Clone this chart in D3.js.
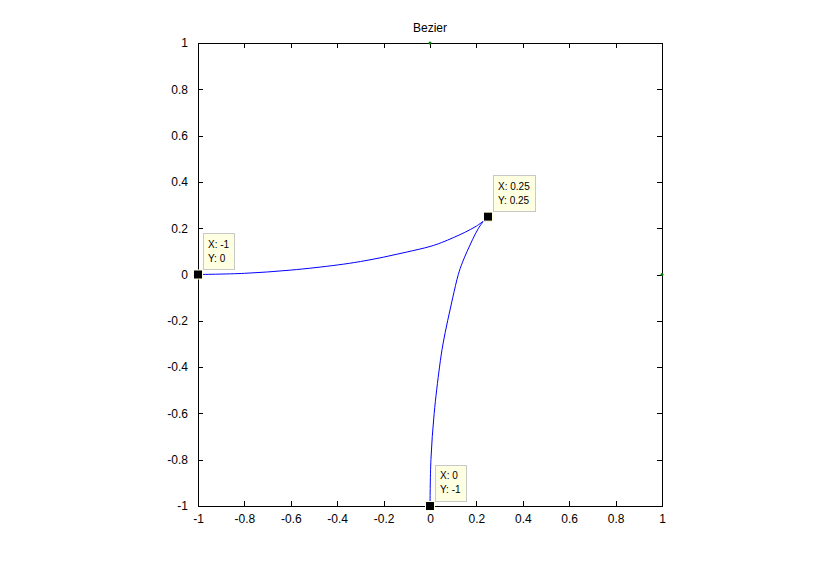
<!DOCTYPE html>
<html>
<head>
<meta charset="utf-8">
<script src="https://cdn.jsdelivr.net/npm/d3@7"></script>
<style>
  body { margin: 0; background: #fff; }
  svg { display: block; font-family: "Liberation Sans", Arial, sans-serif; }
</style>
</head>
<body>
<svg id="chart"></svg>
<script>
// tick positions and their labels (same for both axes)
const tickValues = [-1, -0.8, -0.6, -0.4, -0.2, 0, 0.2, 0.4, 0.6, 0.8, 1]
const tickLabels = ['-1', '-0.8', '-0.6', '-0.4', '-0.2', '0', '0.2', '0.4', '0.6', '0.8', '1']

// upper branch
const upperX = [-1, -0.8, -0.6, -0.4, -0.3, -0.2, -0.1, 0, 0.05, 0.1, 0.15, 0.2, 0.232]
const upperY = [0, 0.005, 0.019, 0.041, 0.056, 0.075, 0.097, 0.121, 0.138, 0.159, 0.182, 0.209, 0.232]

// lower branch
const lowerX = [0, 0.004, 0.018, 0.041, 0.056, 0.076, 0.098, 0.122, 0.139, 0.16, 0.183, 0.209, 0.232]
const lowerY = [-1, -0.8, -0.6, -0.4, -0.3, -0.2, -0.1, 0, 0.05, 0.1, 0.15, 0.2, 0.232]

// data tips
const tipX = [-1, 0.25, 0]
const tipY = [0, 0.25, -1]

// small green points
const dotX = [0, 1]
const dotY = [1, 0]

window.addEventListener('DOMContentLoaded', () => {
  let width = 832
  let height = 568
  let left = 198, right = 662, top = 43, bottom = 506

  let svg = d3.select('#chart')
      .attr('width', width)
      .attr('height', height)

  let x = d3.scaleLinear().domain([-1, 1]).range([left, right])
  let y = d3.scaleLinear().domain([-1, 1]).range([bottom, top])

  let g = svg.append('g')

  // title
  g.append('text')
    .attr('x', (left + right) / 2)
    .attr('y', 32)
    .attr('text-anchor', 'middle')
    .attr('font-size', 12)
    .text('Bezier')

  // box
  g.append('rect')
    .attr('x', left).attr('y', top)
    .attr('width', right - left).attr('height', bottom - top)
    .attr('fill', 'none').attr('stroke', '#000').attr('shape-rendering', 'crispEdges')

  let fmt = d => tickLabels[tickValues.indexOf(d)]

  // axes, ticks inward on all four sides
  g.append('g').attr('transform', `translate(0,${bottom})`)
    .call(d3.axisBottom(x).tickValues(tickValues).tickFormat(fmt).tickSizeInner(-5).tickSizeOuter(0).tickPadding(8))
  g.append('g').attr('transform', `translate(0,${top})`)
    .call(d3.axisTop(x).tickValues(tickValues).tickFormat('').tickSizeInner(-5).tickSizeOuter(0))
  g.append('g').attr('transform', `translate(${left},0)`)
    .call(d3.axisLeft(y).tickValues(tickValues).tickFormat(fmt).tickSizeInner(-5).tickSizeOuter(0).tickPadding(10))
  g.append('g').attr('transform', `translate(${right},0)`)
    .call(d3.axisRight(y).tickValues(tickValues).tickFormat('').tickSizeInner(-5).tickSizeOuter(0))

  g.selectAll('.domain').remove()
  g.selectAll('.tick line').attr('stroke', '#000').attr('shape-rendering', 'crispEdges')
  g.selectAll('.tick text')
    .attr('font-size', 12)
    .attr('font-family', '"Liberation Sans", Arial, sans-serif')
    .attr('fill', '#000')

  // curves
  let upper = upperX.map((d, i) => [d, upperY[i]])
  let lower = lowerX.map((d, i) => [d, lowerY[i]])
  let line = d3.line().x(d => x(d[0])).y(d => y(d[1])).curve(d3.curveCatmullRom.alpha(0.5))

  g.append('path')
    .attr('d', line(upper))
    .attr('fill', 'none').attr('stroke', '#0000ff').attr('stroke-width', 1)
  g.append('path')
    .attr('d', line(lower))
    .attr('fill', 'none').attr('stroke', '#0000ff').attr('stroke-width', 1)

  // green points
  g.selectAll('.dot')
    .data(dotX.map((d, i) => [d, dotY[i]]))
    .enter()
    .append('circle')
      .classed('dot', true)
      .attr('cx', d => x(d[0]))
      .attr('cy', d => y(d[1]))
      .attr('r', 1.5)
      .attr('fill', '#008000')

  // data tips
  let tips = tipX.map((d, i) => ({ x: d, y: tipY[i] }))

  tips.forEach(t => {
    let px = x(t.x), py = y(t.y)
    let tip = g.append('g').attr('transform', `translate(${px + 5},${py - 41})`)
    let box = tip.append('rect')
      .attr('height', 36)
      .attr('fill', '#ffffe1')
      .attr('stroke', '#c8c8c8')
      .attr('shape-rendering', 'crispEdges')
    let t1 = tip.append('text').attr('x', 5).attr('y', 14).attr('font-size', 10).text(`X: ${t.x}`)
    let t2 = tip.append('text').attr('x', 5).attr('y', 28).attr('font-size', 10).text(`Y: ${t.y}`)
    let w = Math.max(t1.node().getComputedTextLength(), t2.node().getComputedTextLength())
    box.attr('width', Math.round(w + 10))

    g.append('rect')
      .attr('x', px - 4.5).attr('y', py - 4.5)
      .attr('width', 9).attr('height', 9)
      .attr('fill', '#000')
      .attr('stroke', '#ffffe1')
      .attr('stroke-width', 1)
  })
})
</script>
</body>
</html>
